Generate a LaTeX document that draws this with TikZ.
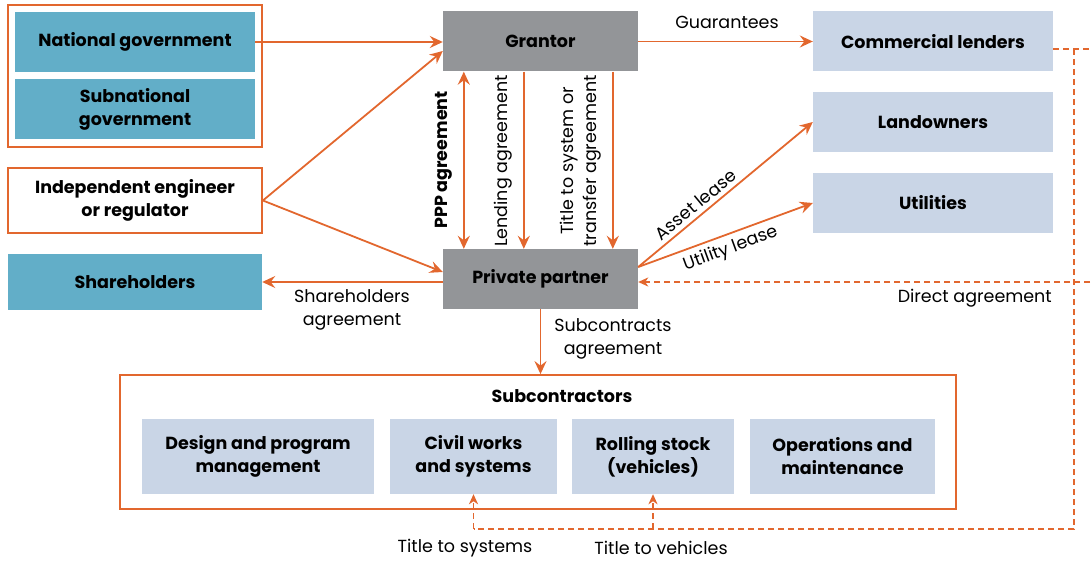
\documentclass[tikz,border=0pt]{standalone}
\usepackage{fontspec}
\setmainfont{Poppins}
\usetikzlibrary{arrows.meta}
\definecolor{pppor}{HTML}{E2672E}
\definecolor{govteal}{HTML}{62AEC8}
\definecolor{partgray}{HTML}{939598}
\definecolor{subblue}{HTML}{C9D5E6}
\tikzset{
  box/.style={minimum width=240pt, minimum height=60pt, align=center, inner sep=0pt,
    font=\fontsize{17.5}{23}\selectfont\bfseries},
  tealbox/.style={box, fill=govteal},
  graybox/.style={box, fill=partgray, minimum width=195pt},
  bluebox/.style={box, fill=subblue},
  framebox/.style={draw=pppor, line width=1.8pt, inner sep=0pt},
  lbl/.style={font=\fontsize{17.5}{23}\selectfont, align=center, inner sep=0pt},
  arr/.style={draw=pppor, line width=1.8pt, -{Stealth[length=13pt,width=12pt,inset=4.5pt]}},
  dline/.style={draw=pppor, line width=1.8pt, dash pattern=on 6pt off 4pt},
  darr/.style={dline, -{Stealth[length=10pt,width=9pt,inset=3pt]}}
}
\begin{document}
\begin{tikzpicture}[x=1pt, y=-1pt]
    \useasboundingbox (0,0) rectangle (1091,561);

    % Left column
    \node[framebox, minimum width=254pt, minimum height=142pt] (govgroup) at (135,76) {};
    \node[tealbox] (natgov) at (135,42) {National government};
    \node[tealbox] (subgov) at (135,109) {Subnational\\government};
    \node[box, framebox, fill=white, minimum width=254pt, minimum height=65pt] (indep) at (135,200.5)
        {Independent engineer\\or regulator};
    \node[tealbox, minimum width=254pt, minimum height=56pt] (share) at (135,282) {Shareholders};

    % Centre
    \node[graybox] (grantor) at (540.5,41.5) {Grantor};
    \node[graybox] (private) at (540.5,279) {Private partner};

    % Right column
    \node[bluebox] (lenders) at (933,41.5) {Commercial lenders};
    \node[bluebox] (land) at (933,122) {Landowners};
    \node[bluebox] (util) at (933,203) {Utilities};

    % Subcontractors
    \node[framebox, minimum width=836pt, minimum height=134pt] (subcon) at (538,442) {};
    \node[lbl, font=\fontsize{17.5}{23}\selectfont\bfseries] (subtitle) at (562,396) {Subcontractors};
    \node[bluebox, minimum width=232pt, minimum height=75pt] (design) at (258,456.5) {Design and program\\management};
    \node[bluebox, minimum width=167pt, minimum height=75pt] (civil) at (473.5,456.5) {Civil works\\and systems};
    \node[bluebox, minimum width=162pt, minimum height=75pt] (rolling) at (653,456.5) {Rolling stock\\(vehicles)};
    \node[bluebox, minimum width=185pt, minimum height=75pt] (om) at (842.5,456.5) {Operations and\\maintenance};

    % Arrows into the grantor
    \draw[arr] (natgov.east) -- (natgov.east -| grantor.west);
    \draw[arr] (indep.east) -- ([yshift=-9.5pt]grantor.west);
    \draw[arr] (indep.east) -- ([yshift=7pt]private.west);
    \draw[arr] (share.east -| private.west) -- (share.east);
    \draw[arr] (grantor.east) -- (lenders.west);

    % Grantor to private partner
    \draw[arr, {Stealth[length=13pt,width=12pt,inset=4.5pt]}-{Stealth[length=13pt,width=12pt,inset=4.5pt]}]
        ([xshift=21pt]grantor.south west) -- ([xshift=21pt]private.north west);
    \draw[arr] ([xshift=81pt]grantor.south west) -- ([xshift=81pt]private.north west);
    \draw[arr] ([xshift=170pt]grantor.south west) -- ([xshift=170pt]private.north west);
    \node[lbl, rotate=90, font=\fontsize{17.5}{23}\selectfont\bfseries] (ppplbl) at (444,160) {PPP agreement};
    \node[lbl, rotate=90] (lendlbl) at (503,161) {Lending agreement};
    \node[lbl, rotate=90] (titlelbl) at (581,161) {Title to system or\\transfer agreement};

    % Leases
    \draw[arr] ([yshift=12pt]private.east) -- (land.west)
        node[lbl, pos=0.37, above=4pt, sloped] (assetlbl) {Asset lease};
    \draw[arr] ([yshift=12pt]private.east) -- (util.west)
        node[lbl, pos=0.5, below=5pt, sloped] (utillbl) {Utility lease};

    % Subcontracts
    \draw[arr] (private.south) -- (private.south |- subcon.north);

    % Direct agreement and titles (dashed)
    \coordinate (rightend) at (1090,282);
    \coordinate (lendend) at (1090,49);
    \coordinate (dtop) at (1074,49);
    \coordinate (dbottom) at (1074,529);
    \draw[darr] (rightend) -- (rightend -| private.east);
    \draw[dline] ([yshift=-7.5pt]lenders.east) -- (lendend);
    \draw[dline] (dtop) -- (dbottom) -- (dbottom -| civil.south);
    \draw[darr] (dbottom -| civil.south) -- (civil.south);
    \draw[darr] (dbottom -| rolling.south) -- (rolling.south);

    % Labels
    \node[lbl] (guarlbl) at (727,22) {Guarantees};
    \node[lbl] (sharelbl) at (352,310) {Shareholders\\agreement};
    \node[lbl] (sublbl) at (613,339) {Subcontracts\\agreement};
    \node[lbl, anchor=east] (directlbl) at (1052,298) {Direct agreement};
    \node[lbl] (syslbl) at (465,548) {Title to systems};
    \node[lbl] (vehlbl) at (661,548) {Title to vehicles};
\end{tikzpicture}
\end{document}
